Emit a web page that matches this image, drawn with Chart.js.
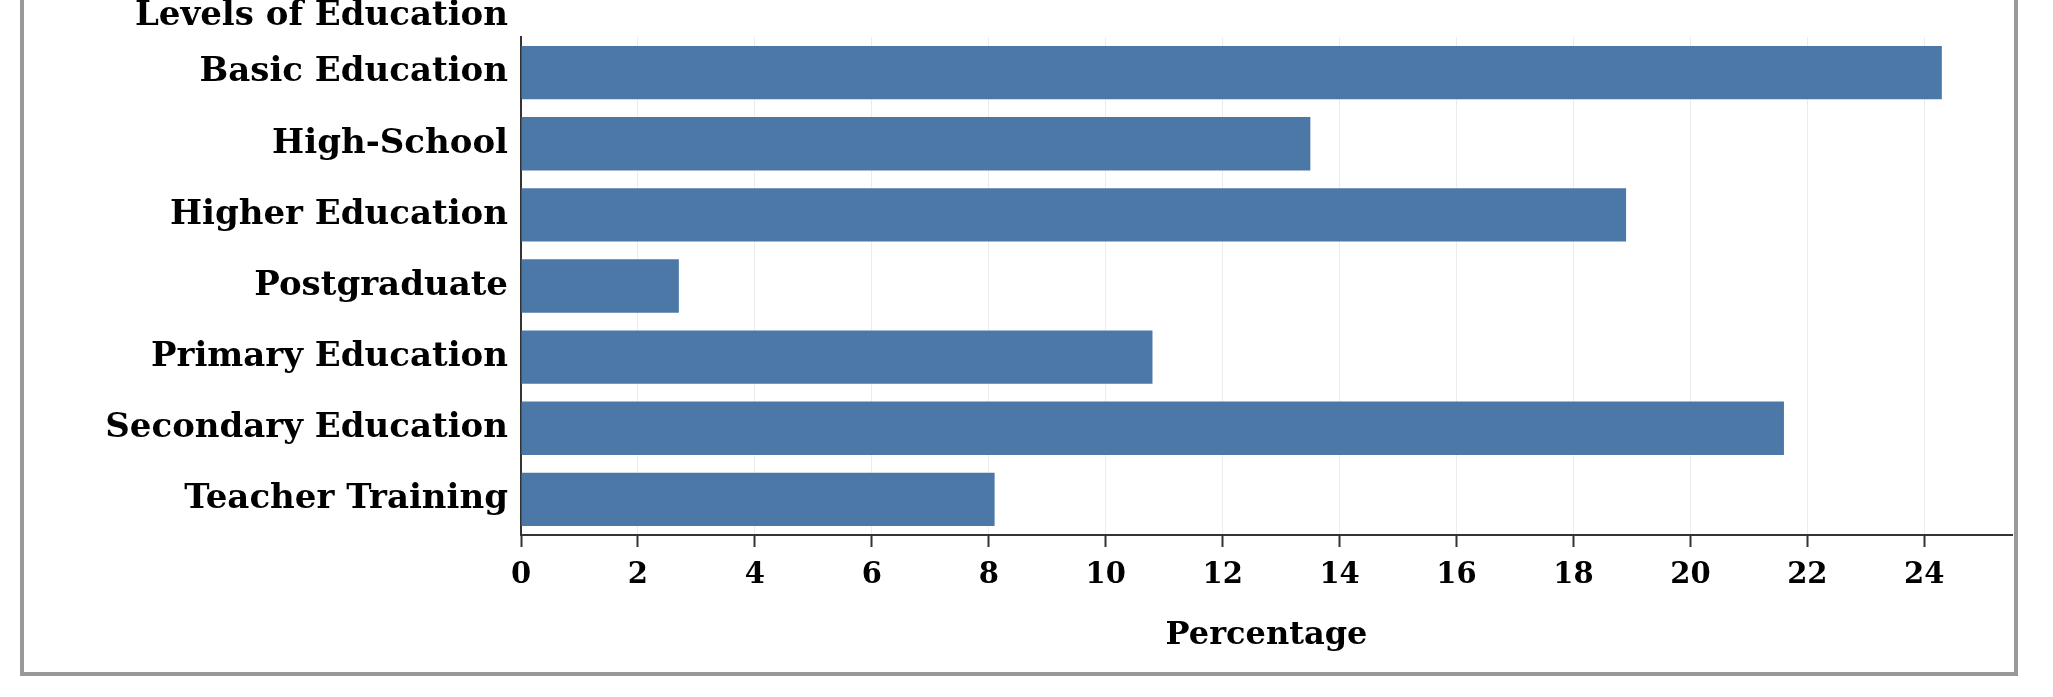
<!DOCTYPE html>
<html>
<head>
<meta charset="utf-8">
<script src="https://cdn.jsdelivr.net/npm/chart.js@4/dist/chart.umd.min.js"></script>
<style>
    html, body { margin: 0; padding: 0; background: #fff; overflow: hidden; }
    #frame {
        position: absolute;
        left: 20px; top: -30px;
        width: 1998px; height: 706px;
        border: 4px solid #999;
        box-sizing: border-box;
    }
</style>
</head>
<body>
<div id="frame"><canvas id="eduChart"></canvas></div>
<script>
const levels = [
    'Basic Education',
    'High-School',
    'Higher Education',
    'Postgraduate',
    'Primary Education',
    'Secondary Education',
    'Teacher Training'
];
const percentages = [24.3, 13.5, 18.9, 2.7, 10.8, 21.6, 8.1];
const yAxisTitle = 'Levels of Education';
const xAxisTitle = 'Percentage';

const FONT = '"DejaVu Serif", Georgia, serif';
const TEXT = '#000';

// y axis title sits above the category labels, right aligned to them
const yTitlePlugin = {
    id: 'yTitle',
    afterDraw(chart) {
        const { ctx } = chart;
        const y = chart.scales.y;
        ctx.save();
        ctx.font = 'bold 34px ' + FONT;
        ctx.fillStyle = TEXT;
        ctx.textAlign = 'right';
        ctx.textBaseline = 'middle';
        ctx.fillText(yAxisTitle, y.right - 13, 42);
        ctx.restore();
    }
};

document.addEventListener('DOMContentLoaded', () => {
    const ctx = document.getElementById('eduChart').getContext('2d');
    new Chart(ctx, {
        type: 'bar',
        data: {
            labels: levels,
            datasets: [{
                data: percentages,
                backgroundColor: '#4c78a8',
                barPercentage: 0.75,
                categoryPercentage: 1.0,
                borderWidth: 0
            }]
        },
        options: {
            indexAxis: 'y',
            responsive: true,
            maintainAspectRatio: false,
            animation: false,
            layout: { padding: { top: 63, right: 2, left: 0, bottom: 0 } },
            plugins: {
                legend: { display: false },
                tooltip: { enabled: false }
            },
            scales: {
                x: {
                    min: 0,
                    max: 25.5,
                    grid: {
                        color: '#ececec',
                        lineWidth: 1,
                        tickColor: '#333',
                        tickWidth: 2,
                        tickLength: 12
                    },
                    border: { display: true, color: '#333', width: 2 },
                    ticks: {
                        stepSize: 2,
                        includeBounds: false,
                        color: TEXT,
                        padding: 11,
                        maxRotation: 0,
                        font: { family: FONT, size: 29, weight: 'bold' }
                    },
                    title: {
                        display: true,
                        text: xAxisTitle,
                        color: TEXT,
                        padding: { top: 17, bottom: 17 },
                        font: { family: FONT, size: 32, weight: 'bold' }
                    },
                    afterFit(scale) { scale.height = 137; }
                },
                y: {
                    grid: { display: false, drawTicks: false },
                    border: { display: true, color: '#333', width: 2 },
                    ticks: {
                        color: TEXT,
                        padding: 13,
                        font: { family: FONT, size: 34, weight: 'bold' }
                    },
                    afterFit(scale) { scale.width = 497; }
                }
            }
        },
        plugins: [yTitlePlugin]
    });
});
</script>
</body>
</html>
